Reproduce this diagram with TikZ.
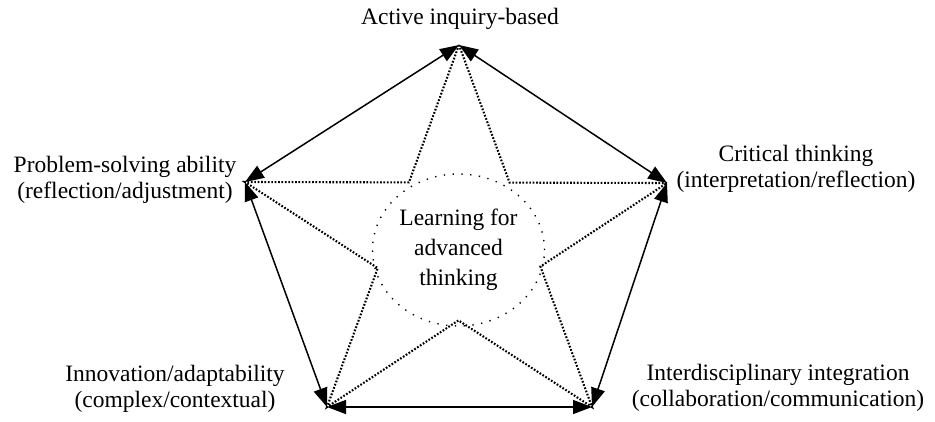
\documentclass[tikz,border=0pt]{standalone}
\usepackage{fontspec}
\setmainfont{Liberation Serif}
\usetikzlibrary{arrows.meta,shapes.geometric}
\begin{document}
\begin{tikzpicture}[x=1pt,y=-1pt,
  label/.style={align=center,inner sep=0pt,font=\fontsize{23.5}{26.5}\selectfont},
  link/.style={line width=1.5pt,{Triangle[length=19pt,width=14pt]}-{Triangle[length=19pt,width=14pt]}},
  starline/.style={line width=2.1pt,dash pattern=on 1.7pt off 1.7pt},
  hub/.style={ellipse,draw,line width=1.4pt,dash pattern=on 1.3pt off 7.5pt,
    minimum width=172pt,minimum height=152pt,inner sep=0pt,align=center,
    font=\fontsize{23.5}{30}\selectfont}]
\useasboundingbox (0,0) rectangle (935,421);

% outer vertices
\coordinate (T)  at (459,45);
\coordinate (R)  at (667,183);
\coordinate (BR) at (592,407);
\coordinate (BL) at (327,407);
\coordinate (L)  at (245,182);

% inner corners of the star
\coordinate (iTL) at (intersection of T--BL and L--R);
\coordinate (iTR) at (intersection of T--BR and L--R);
\coordinate (iR)  at (intersection of T--BR and R--BL);
\coordinate (iB)  at (intersection of R--BL and L--BR);
\coordinate (iL)  at (intersection of L--BR and T--BL);

% central hub
\node[hub] (core) at (458.5,250) {Learning for\\advanced\\thinking};

% dotted star outline
\draw[starline] (T) -- (iTL) -- (L) -- (iL) -- (BL) -- (iB) -- (BR) -- (iR) -- (R) -- (iTR) -- cycle;

% two-way links around the pentagon
\draw[link] (T) -- (R);
\draw[link] (R) -- (BR);
\draw[link] (BR) -- (BL);
\draw[link] (BL) -- (L);
\draw[link] (L) -- (T);

% vertex labels
\node[label] (act)   at (460,19)  {Active inquiry-based};
\node[label] (prob)  at (125,180) {Problem-solving ability\\(reflection/adjustment)};
\node[label] (crit)  at (796,169) {Critical thinking\\(interpretation/reflection)};
\node[label] (innov) at (175,389) {Innovation/adaptability\\(complex/contextual)};
\node[label] (inter) at (778,388) {Interdisciplinary integration\\(collaboration/communication)};
\end{tikzpicture}
\end{document}
